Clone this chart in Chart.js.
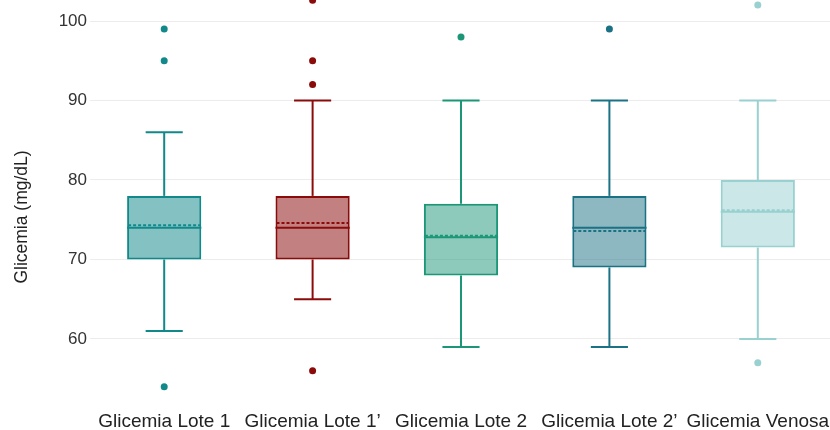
<!DOCTYPE html>
<html>
<head>
<meta charset="utf-8">
<script src="https://cdn.jsdelivr.net/npm/chart.js@4.4.1/dist/chart.umd.min.js"></script>
<style>
  html, body { margin: 0; padding: 0; background: #fff; overflow: hidden; }
  canvas { display: block; }
</style>
</head>
<body>
<canvas id="chart" width="836" height="430"></canvas>
<script>
// Glycemia readings per group, summarised as box plots
const categories  = ['Glicemia Lote 1', 'Glicemia Lote 1\u2019', 'Glicemia Lote 2', 'Glicemia Lote 2\u2019', 'Glicemia Venosa'];
const whiskerLow  = [61, 65, 59, 59, 60];
const q1          = [70, 70, 68, 69, 71.5];
const median      = [74, 74, 72.8, 74, 76];
const q3          = [78, 78, 77, 78, 80];
const whiskerHigh = [86, 90, 90, 90, 90];
const mean        = [74.3, 74.6, 73.0, 73.6, 76.2];
const outliers    = [[99, 95, 54], [102.6, 95, 92, 56], [98], [99], [102, 57]];
const yTicks      = [60, 70, 80, 90, 100];
const yTitle      = 'Glicemia (mg/dL)';

const strokeColors = ['#11898a', '#8b0b0b', '#1b9677', '#1b7284', '#99d0d0'];
const fillColors   = ['rgba(17,137,138,0.52)', 'rgba(139,11,11,0.52)', 'rgba(27,150,119,0.5)', 'rgba(27,114,132,0.5)', 'rgba(153,208,208,0.5)'];

const FONT = "'Liberation Sans', Arial, Helvetica, sans-serif";

// Outlier points, one entry per observation
const outlierPoints = [];
const outlierColors = [];
outliers.forEach((vals, i) => {
  vals.forEach(v => {
    outlierPoints.push({ x: categories[i], y: v });
    outlierColors.push(strokeColors[i]);
  });
});

// Whiskers, caps, medians (solid) and means (dashed) drawn on top of the boxes
const boxParts = {
  id: 'boxParts',
  afterDatasetsDraw(chart) {
    const { ctx } = chart;
    const x = chart.scales.x, y = chart.scales.y;
    const boxes = chart.getDatasetMeta(0).data;
    const seg = (x1, y1, x2, y2) => { ctx.beginPath(); ctx.moveTo(x1, y1); ctx.lineTo(x2, y2); ctx.stroke(); };
    categories.forEach((c, i) => {
      const cx = x.getPixelForValue(i);
      const half = boxes[i].width / 2;
      const capHalf = half / 2;
      ctx.save();
      ctx.strokeStyle = strokeColors[i];
      ctx.lineWidth = 2;
      const yHi = y.getPixelForValue(whiskerHigh[i]);
      const yLo = y.getPixelForValue(whiskerLow[i]);
      seg(cx, y.getPixelForValue(q3[i]), cx, yHi);
      seg(cx, y.getPixelForValue(q1[i]), cx, yLo);
      seg(cx - capHalf, yHi, cx + capHalf, yHi);
      seg(cx - capHalf, yLo, cx + capHalf, yLo);
      const yMed = y.getPixelForValue(median[i]);
      seg(cx - half, yMed, cx + half, yMed);
      ctx.setLineDash([3, 2]);
      const yMean = y.getPixelForValue(mean[i]);
      seg(cx - half + 1, yMean, cx + half - 1, yMean);
      ctx.restore();
    });
  }
};

// Vertical axis title, set a little below the middle of the plot
const axisTitle = {
  id: 'axisTitle',
  afterDraw(chart) {
    const { ctx } = chart;
    ctx.save();
    ctx.translate(22, 217);
    ctx.rotate(-Math.PI / 2);
    ctx.font = '17.5px ' + FONT;
    ctx.fillStyle = '#222';
    ctx.textAlign = 'center';
    ctx.textBaseline = 'middle';
    ctx.fillText(yTitle, 0, 0);
    ctx.restore();
  }
};

new Chart(document.getElementById('chart'), {
  data: {
    labels: categories,
    datasets: [
      {
        type: 'bar',
        data: categories.map((c, i) => [q1[i], q3[i]]),
        backgroundColor: fillColors,
        borderColor: strokeColors,
        borderWidth: 2,
        borderSkipped: false,
        barPercentage: 0.5,
        categoryPercentage: 1,
        order: 2
      },
      {
        type: 'line',
        data: outlierPoints,
        showLine: false,
        clip: false,
        pointRadius: 3.5,
        pointBorderWidth: 0,
        pointBackgroundColor: outlierColors,
        pointBorderColor: outlierColors,
        order: 1
      }
    ]
  },
  options: {
    responsive: false,
    animation: false,
    layout: { padding: 0 },
    plugins: { legend: { display: false }, tooltip: { enabled: false } },
    scales: {
      x: {
        type: 'category',
        offset: true,
        grid: { display: false, drawTicks: false },
        border: { display: false },
        ticks: { padding: 4, color: '#222', maxRotation: 0, autoSkip: false, font: { family: FONT, size: 19 } },
        afterFit(s) { s.height = 24; s.paddingLeft = 0; s.paddingRight = 0; }
      },
      y: {
        min: 51.57,
        max: 102.14,
        grid: { color: '#ececec', lineWidth: 1, drawTicks: false },
        border: { display: false },
        ticks: { padding: 3, color: '#333', font: { family: FONT, size: 17 } },
        afterBuildTicks(s) { s.ticks = yTicks.map(v => ({ value: v })); },
        title: { display: false },
        afterFit(s) { s.width = 90; s.paddingTop = 0; s.paddingBottom = 0; }
      }
    }
  },
  plugins: [boxParts, axisTitle]
});
</script>
</body>
</html>
